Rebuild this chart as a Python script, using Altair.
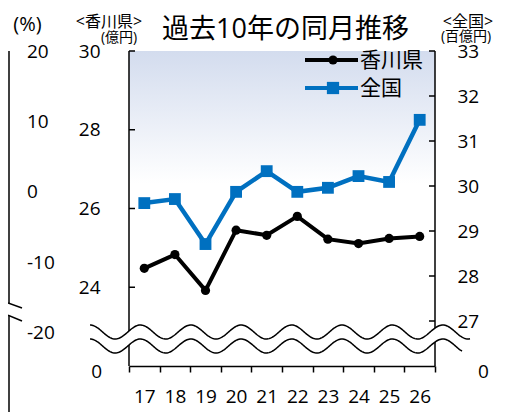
import altair as alt
import numpy as np
import pandas as pd

# ---- data ----
years = ["17", "18", "19", "20", "21", "22", "23", "24", "25", "26"]
kagawa = [24.48, 24.83, 23.92, 25.45, 25.32, 25.80, 25.22, 25.11, 25.24, 25.29]
zenkoku = [29.62, 29.71, 28.71, 29.87, 30.33, 29.87, 29.96, 30.22, 30.09, 31.47]
series_names = ["香川県", "全国"]
left_ticks = [24, 26, 28, 30]
right_ticks = [27, 28, 29, 30, 31, 32, 33]
pct_ticks = [20, 10, 0, -10, -20]
title_text = "過去10年の同月推移"
left_unit = ["<香川県>", "(億円)"]
right_unit = ["<全国>", "(百億円)"]
pct_unit = "(%)"
break_label = "0"

# ---- layout / style ----
W, H = 306, 315
FONT = "Open Sans, Noto Sans CJK JP"
CJK = "Noto Sans CJK JP, Open Sans"
BLUE = "#0070C0"
k_dom = [22, 30]
z_dom = [26, 33]
p_dom = [-24.70, 20.14]

df = pd.DataFrame({"year": years, "kagawa": kagawa, "zenkoku": zenkoku})
one = pd.DataFrame({"_": [0]})


def yscale(dom):
    return alt.Scale(domain=dom, nice=False, zero=False)


def txt(text, x, y, size, align="center", baseline="alphabetic", font=CJK):
    return alt.Chart(one).mark_text(
        text=text, font=font, fontSize=size, align=align, baseline=baseline, color="#000"
    ).encode(x=alt.value(x), y=alt.value(y))


def rule(x, x2, y, y2, color="#000", w=1.5):
    return alt.Chart(one).mark_rule(color=color, strokeWidth=w).encode(
        x=alt.value(x), x2=alt.value(x2), y=alt.value(y), y2=alt.value(y2)
    )


grad = alt.LinearGradient(
    gradient="linear",
    stops=[
        alt.GradientStop(color="#d3dcee", offset=0),
        alt.GradientStop(color="#ffffff", offset=0.42),
        alt.GradientStop(color="#ffffff", offset=1),
    ],
    x1=0, x2=0, y1=0, y2=1,
)
bg = alt.Chart(one).mark_rect(fill=grad, strokeWidth=0).encode(
    x=alt.value(0), x2=alt.value(W), y=alt.value(0), y2=alt.value(H)
)

xenc = alt.X(
    "year:O",
    sort=years,
    scale=alt.Scale(type="band", paddingInner=0, paddingOuter=0),
    axis=alt.Axis(
        title=None, labelAngle=0, tickBand="extent", tickSize=6, tickColor="#000",
        tickWidth=1.5, domainColor="#000", domainWidth=1.5, labelFont=FONT,
        labelFontSize=19, labelColor="#000", labelPadding=15, zindex=1, grid=False,
    ),
)

# axis lines and inward ticks
axis_lines = rule(0, 0, 0, H) + rule(W, W, 0, H)
k_ticks = alt.Chart(pd.DataFrame({"v": left_ticks})).mark_rule(color="#000", strokeWidth=1.5).encode(
    y=alt.Y("v:Q", scale=yscale(k_dom), axis=None), x=alt.value(0), x2=alt.value(6)
)
z_ticks = alt.Chart(pd.DataFrame({"v": right_ticks})).mark_rule(color="#000", strokeWidth=1.5).encode(
    y=alt.Y("v:Q", scale=yscale(z_dom), axis=None), x=alt.value(W - 6), x2=alt.value(W)
)

# partial % axis of the neighbouring chart
pct_line = rule(-120, -120, 0, H + 46)
pct_df = pd.DataFrame({"v": pct_ticks, "t": [str(v) for v in pct_ticks]})
pct_labels = alt.Chart(pct_df).mark_text(
    font=FONT, fontSize=19, align="left", baseline="middle", color="#000"
).encode(
    y=alt.Y("v:Q", scale=yscale(p_dom), axis=None), x=alt.value(-102), text="t:N"
)
bx = np.array([-121.0, -107.0])
brk = pd.DataFrame({"x": bx, "yu": 249 + (bx + 129) * 8 / 22, "yl": 261 + (bx + 129) * 9 / 22})
brk_fill = alt.Chart(brk).mark_area(color="white").encode(
    x=alt.X("x:Q", scale=None), y=alt.Y("yu:Q", scale=None), y2="yl:Q"
)
brk_l1 = alt.Chart(brk).mark_line(color="#000", strokeWidth=1.5).encode(
    x=alt.X("x:Q", scale=None), y=alt.Y("yu:Q", scale=None)
)
brk_l2 = alt.Chart(brk).mark_line(color="#000", strokeWidth=1.5).encode(
    x=alt.X("x:Q", scale=None), y=alt.Y("yl:Q", scale=None)
)

# wavy break across the chart (decoration)
wx = np.arange(-39.0, 342.0, 1.0)
wy = 281 - 7 * np.cos(2 * np.pi * (wx + 39) / 50.4)
wave = pd.DataFrame({"x": wx, "yu": wy, "yl": wy + 14})
wave_lo = wave[wave["x"] <= 333]
wave_fill = alt.Chart(wave_lo).mark_area(color="white").encode(
    x=alt.X("x:Q", scale=None), y=alt.Y("yu:Q", scale=None), y2="yl:Q"
)
wave_l1 = alt.Chart(wave).mark_line(color="#000", strokeWidth=1.5).encode(
    x=alt.X("x:Q", scale=None), y=alt.Y("yu:Q", scale=None)
)
wave_l2 = alt.Chart(wave_lo).mark_line(color="#000", strokeWidth=1.5).encode(
    x=alt.X("x:Q", scale=None), y=alt.Y("yl:Q", scale=None)
)

# series
k_line = alt.Chart(df).mark_line(
    color="#000", strokeWidth=4,
    point=alt.OverlayMarkDef(filled=True, size=85, color="#000"),
).encode(
    x=xenc,
    y=alt.Y(
        "kagawa:Q", scale=yscale(k_dom),
        axis=alt.Axis(orient="left", values=left_ticks, domain=False, ticks=False, grid=False,
                      labelPadding=29, labelFont=FONT, labelFontSize=19, labelColor="#000", title=None),
    ),
)
z_line = alt.Chart(df).mark_line(
    color=BLUE, strokeWidth=4.5,
    point=alt.OverlayMarkDef(filled=True, size=140, shape="square", color=BLUE),
).encode(
    x=xenc,
    y=alt.Y(
        "zenkoku:Q", scale=yscale(z_dom),
        axis=alt.Axis(orient="right", values=right_ticks, domain=False, ticks=False, grid=False,
                      labelPadding=22, labelFont=FONT, labelFontSize=19, labelColor="#000", title=None),
    ),
)

# bottom "0" labels at the broken axes
k_zero = alt.Chart(pd.DataFrame({"v": [k_dom[0]]})).mark_text(
    text=break_label, font=FONT, fontSize=19, align="right", baseline="middle", dy=6, color="#000"
).encode(y=alt.Y("v:Q", scale=yscale(k_dom), axis=None), x=alt.value(-27))
z_zero = alt.Chart(pd.DataFrame({"v": [z_dom[0]]})).mark_text(
    text=break_label, font=FONT, fontSize=19, align="left", baseline="middle", dy=6, color="#000"
).encode(y=alt.Y("v:Q", scale=yscale(z_dom), axis=None), x=alt.value(349))

# legend
colors = ["#000", BLUE]
shapes = ["circle", "square"]
sizes = [85, 150]
legend = []
for i, name in enumerate(series_names):
    ly = 9 + 28 * i
    legend.append(rule(176, 229, ly, ly, colors[i], 4))
    legend.append(
        alt.Chart(one).mark_point(shape=shapes[i], filled=True, size=sizes[i], color=colors[i], opacity=1)
        .encode(x=alt.value(204), y=alt.value(ly))
    )
    legend.append(txt(name, 231, ly + 1, 21, align="left", baseline="middle"))

# header texts (the reference is cropped at the top; kept fully visible here)
headers = [
    txt(title_text, 156.5, -13, 27, font=FONT),
    txt(left_unit[0], -20, -24, 16, font=FONT),
    txt(left_unit[1], -10, -9, 14, font=FONT),
    txt(right_unit[0], 339, -24, 16, font=FONT),
    txt(right_unit[1], 337, -10, 14, font=FONT),
    txt(pct_unit, -101.5, -20, 20, font=FONT),
]

layers = [bg, axis_lines, k_ticks, z_ticks, pct_line, pct_labels,
          wave_fill, wave_l1, wave_l2, brk_fill, brk_l1, brk_l2,
          k_line, z_line, k_zero, z_zero] + legend + headers

chart = alt.layer(*layers).resolve_scale(y="independent").properties(
    width=W, height=H,
    autosize=alt.AutoSizeParams(type="none"),
    padding={"left": 121, "top": 43, "right": 70, "bottom": 46},
).configure_view(stroke=None).configure_axis(grid=False)

chart.save("out.html", embed_options={"renderer": "svg", "actions": False})
